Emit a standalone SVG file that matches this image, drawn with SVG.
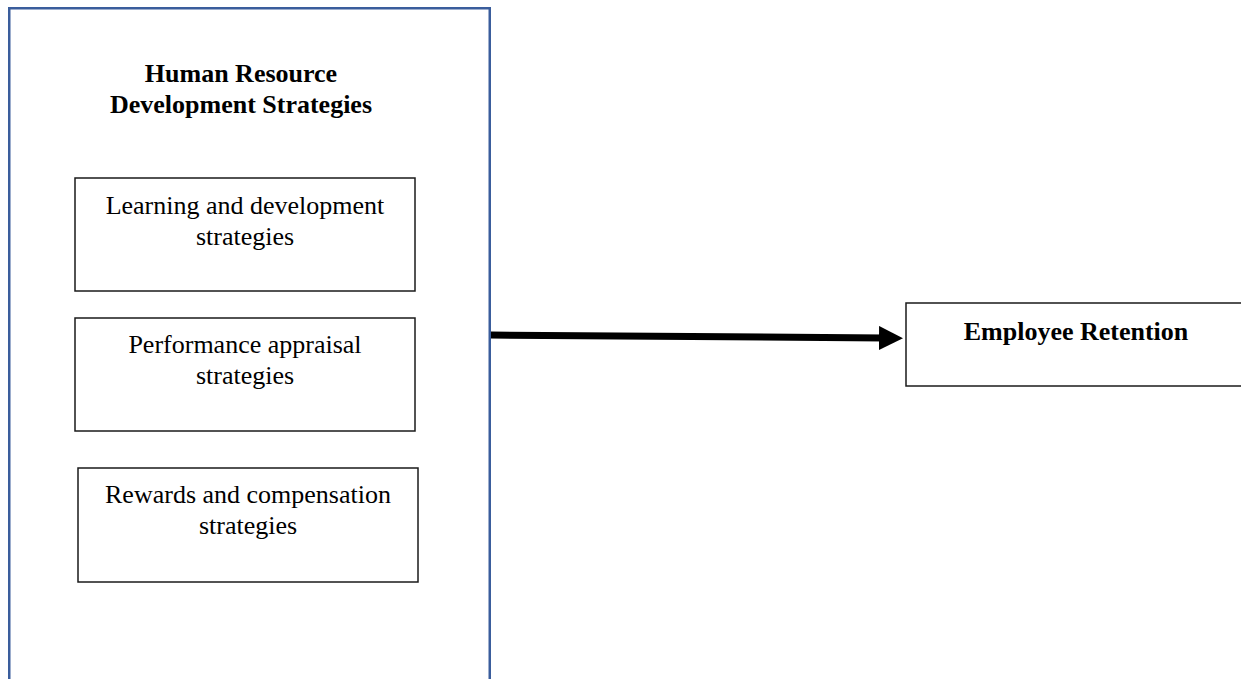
<svg xmlns="http://www.w3.org/2000/svg" width="1241" height="679" viewBox="0 0 1241 679">
<style>
.bg{fill:#ffffff}
.outer{fill:#ffffff;stroke:#3a5d9c;stroke-width:2.5}
.box{fill:#ffffff;stroke:#1a1a1a;stroke-width:1.5}
.t{font-family:"Liberation Serif","Times New Roman",serif;font-size:26px;fill:#000;text-anchor:middle}
.b{font-weight:bold}
.conn{stroke:#000;stroke-width:7;fill:none}
</style>
<defs>
<marker id="ah" markerUnits="userSpaceOnUse" markerWidth="24" markerHeight="24" refX="6" refY="12" orient="auto" viewBox="0 0 24 24">
<path d="M0,0 L24,12 L0,24 Z" fill="#000"/>
</marker>
</defs>
<rect class="bg" x="0" y="0" width="1241" height="679"/>
<g id="hrd-strategies">
<rect class="outer" x="9.25" y="8.25" width="480.5" height="700"/>
<text class="t b" x="241" y="82">Human Resource</text>
<text class="t b" x="241" y="113">Development Strategies</text>
</g>
<g id="learning-development">
<rect class="box" x="75" y="178" width="340" height="113"/>
<text class="t" x="245" y="214">Learning and development</text>
<text class="t" x="245" y="245">strategies</text>
</g>
<g id="performance-appraisal">
<rect class="box" x="75" y="318" width="340" height="113"/>
<text class="t" x="245" y="353">Performance appraisal</text>
<text class="t" x="245" y="384">strategies</text>
</g>
<g id="rewards-compensation">
<rect class="box" x="78" y="468" width="340" height="114"/>
<text class="t" x="248" y="503">Rewards and compensation</text>
<text class="t" x="248" y="534">strategies</text>
</g>
<g id="employee-retention">
<rect class="box" x="906" y="303" width="345" height="83"/>
<text class="t b" x="1076" y="340">Employee Retention</text>
</g>
<g id="connectors">
<line class="conn" x1="491" y1="335" x2="885" y2="338" marker-end="url(#ah)"/>
</g>
</svg>
